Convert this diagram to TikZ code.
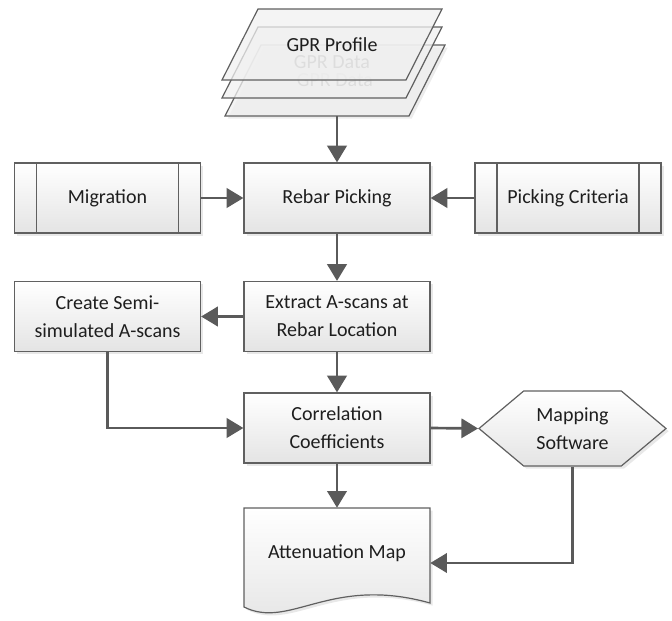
\documentclass[tikz,border=0pt]{standalone}
\usepackage{fontspec}
\setmainfont{Carlito}
\usetikzlibrary{%
    arrows.meta,%
    shapes.symbols,%
    shadows%
}
\definecolor{linegray}{HTML}{606060}
\definecolor{arrowgray}{HTML}{5A5A5A}
\definecolor{boxgray}{HTML}{E4E4E4}
\definecolor{layergray}{HTML}{F0F0F0}
\definecolor{textgray}{HTML}{1E1E1E}

\begin{document}
\begin{tikzpicture}[
    x=0.75pt, y=-0.75pt,
    font={\fontsize{15}{21}\selectfont},
    box/.style={draw=linegray, line width=0.9pt,
        top color=white, bottom color=boxgray,
        minimum width=139.5pt, minimum height=52.5pt,
        align=center, text=textgray,
        drop shadow={shadow xshift=2pt, shadow yshift=-2pt, opacity=0.18}},
    subproc/.style={box,
        % the two inner bars of a predefined process
        path picture={
            \draw[linegray, line width=0.9pt]
              ([xshift=16.5pt]path picture bounding box.north west) --
              ([xshift=16.5pt]path picture bounding box.south west)
              ([xshift=-16.5pt]path picture bounding box.north east) --
              ([xshift=-16.5pt]path picture bounding box.south east);}},
    hexbox/.style={box, signal, signal to=west and east,
        signal pointer angle=80, minimum width=140.25pt,
        minimum height=56.25pt},
    layer/.style={draw=linegray, line width=0.9pt, fill=layergray,
        fill opacity=0.75},
    layertext/.style={minimum width=139.5pt, minimum height=53.25pt},
    docshape/.style={draw=linegray, line width=0.9pt,
        top color=white, bottom color=boxgray,
        drop shadow={shadow xshift=2pt, shadow yshift=-2pt, opacity=0.18}},
    flow/.style={draw=arrowgray, line width=2pt,
        -{Triangle[length=12.5pt, width=14.5pt]}},
    ]

    \useasboundingbox (0,0) rectangle (672,621);

    % GPR stack, back to front
    \filldraw[layer, drop shadow={shadow xshift=2pt, shadow yshift=-2pt,
        opacity=0.15}] (261,45) -- (445,45) -- (409,116) -- (225,116) -- cycle;
    \node[layertext, text=gray!70] (gprC) at (335,80.5) {GPR Data};
    \filldraw[layer] (258,27) -- (442,27) -- (406,98) -- (222,98) -- cycle;
    \node[layertext, text=gray!70] (gprB) at (332,62.5) {GPR Data};
    \filldraw[layer] (258,9) -- (442,9) -- (406,80) -- (222,80) -- cycle;
    \node[layertext, text=textgray] (gprA) at (332,44.5) {GPR Profile};

    % Row of picking
    \node[subproc] (migr) at (107.5,198) {Migration};
    \node[box] (rebar) at (337,198) {Rebar Picking};
    \node[subproc] (crit) at (568,198) {Picking Criteria};

    % A-scans
    \node[box] (semi) at (107.5,316.5) {Create Semi-\\simulated A-scans};
    \node[box] (extract) at (337,316.5) {Extract A-scans at\\Rebar Location};

    \node[box] (corr) at (337,428) {Correlation\\Coefficients};
    \node[hexbox] (mapsw) at (572.5,428.5) {Mapping\\Software};

    % Document with wavy bottom
    \shade[docshape] (244,508) -- (430,508) -- (430,603)
        .. controls (330,575) and (290,630) .. (244,607) -- cycle;
    \node[minimum width=139.5pt, minimum height=67.5pt, text=textgray]
        (atten) at (337,553) {Attenuation Map};

    % Connectors
    \draw[flow] (gprC.south -| rebar.north) -- (rebar.north);
    \draw[flow] (migr) -- (rebar);
    \draw[flow] (crit) -- (rebar);
    \draw[flow] (rebar) -- (extract);
    \draw[flow] (extract) -- (semi);
    \draw[flow] (extract) -- (corr);
    \draw[flow] (semi.south) |- (corr.west);
    \draw[flow] (corr.east) -- (mapsw.west);
    \draw[flow] (corr.south) -- (atten.north);
    \draw[flow] (mapsw.south) |- ([yshift=-7.5pt]atten.east);
\end{tikzpicture}
\end{document}
